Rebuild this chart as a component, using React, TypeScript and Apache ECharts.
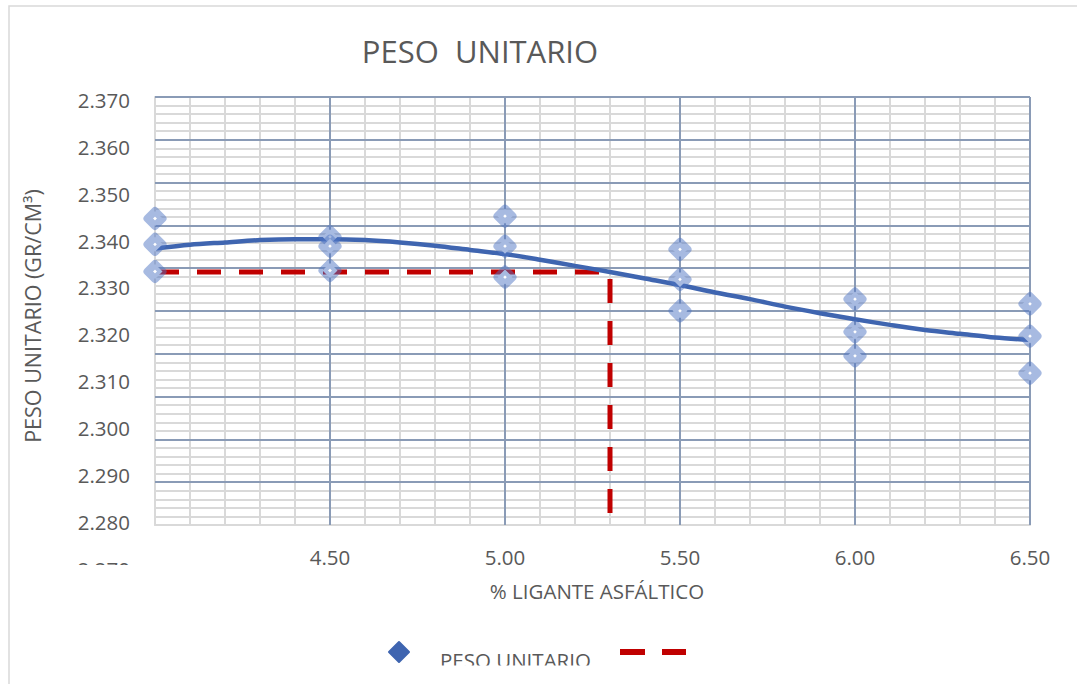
import React, { useEffect, useRef } from "react";
import * as echarts from "echarts";

// Asphalt binder content (%) of each group of specimens
const ASPHALT_CONTENT = [4.0, 4.5, 5.0, 5.5, 6.0, 6.5];
// Unit weight (gr/cm³) of the three specimens at each binder content
const SPECIMEN_A = [2.3447, 2.3408, 2.3452, 2.3381, 2.3275, 2.3265];
const SPECIMEN_B = [2.3392, 2.3388, 2.3388, 2.3317, 2.3205, 2.3196];
const SPECIMEN_C = [2.3334, 2.3336, 2.3322, 2.325, 2.3154, 2.3117];

// Polynomial trend line, sampled every 0.1 %
const TREND_X = [
  4.0, 4.1, 4.2, 4.3, 4.4, 4.5, 4.6, 4.7, 4.8, 4.9, 5.0, 5.1, 5.2,
  5.3, 5.4, 5.5, 5.6, 5.7, 5.8, 5.9, 6.0, 6.1, 6.2, 6.3, 6.4, 6.5,
];
const TREND_Y = [
  2.3383, 2.3391, 2.3396, 2.3401, 2.3403, 2.3403, 2.3401, 2.3396, 2.3389,
  2.338, 2.3371, 2.3359, 2.3346, 2.3333, 2.3319, 2.3305, 2.3289, 2.3275,
  2.3259, 2.3245, 2.3232, 2.322, 2.3209, 2.3201, 2.3193, 2.3188,
];

// Optimum binder content and its unit weight
const OPTIMUM_CONTENT = 5.3;
const OPTIMUM_WEIGHT = 2.3333;
const GUIDE_FLOOR = 2.28;

const X_MIN = 4.0;
const X_MAX = 6.5;
const X_STEP = 0.5;
const Y_MIN = 2.27;
const Y_MAX = 2.37;
const Y_STEP = 0.01;

const TITLE = "PESO  UNITARIO";
const Y_TITLE = "PESO UNITARIO (GR/CM³)";
const X_TITLE = "% LIGANTE ASFÁLTICO";
const SERIES_NAME = "PESO UNITARIO";

const FONT = "'Open Sans', 'Noto Sans', sans-serif";
const TEXT = "#595959";
const MAJOR = "#8A9BB6";
const MINOR = "#D9D9D9";
const BLUE = "#3F65B0";
const RED = "#C00000";

const PLOT = { left: 155, top: 97, width: 875, height: 428 };

export default function App() {
  const ref = useRef<HTMLDivElement>(null);

  useEffect(() => {
    if (!ref.current) return;
    const chart = echarts.init(ref.current, null, { renderer: "svg" });

    const points: number[][] = [];
    ASPHALT_CONTENT.forEach((x, i) => {
      points.push([x, SPECIMEN_A[i]], [x, SPECIMEN_B[i]], [x, SPECIMEN_C[i]]);
    });
    const trend = TREND_X.map((x, i) => [x, TREND_Y[i]]);
    const guide = [
      [X_MIN, OPTIMUM_WEIGHT],
      [OPTIMUM_CONTENT, OPTIMUM_WEIGHT],
      [OPTIMUM_CONTENT, GUIDE_FLOOR],
    ];

    const hidden = {
      axisLine: { show: false },
      axisTick: { show: false },
      axisLabel: { show: false },
      splitLine: { show: false },
    };

    chart.setOption({
      animation: false,
      backgroundColor: "#ffffff",
      grid: [
        // minor grid + axis lines
        { ...PLOT },
        // value scale used by labels and data
        { left: PLOT.left, top: 100, width: PLOT.width, height: 468.5 },
        // major grid drawn above the minor one
        { ...PLOT },
      ],
      xAxis: [
        {
          gridIndex: 0,
          type: "value",
          min: X_MIN,
          max: X_MAX,
          interval: X_STEP,
          axisLine: { show: true, onZero: false, lineStyle: { color: MINOR, width: 2 } },
          axisTick: { show: false },
          axisLabel: {
            color: TEXT,
            fontSize: 20.5,
            fontFamily: FONT,
            margin: 21,
            formatter: (v: number) => (v === X_MIN ? "" : v.toFixed(2)),
          },
          splitLine: { show: false },
          minorTick: { show: false, splitNumber: 5 },
          minorSplitLine: { show: true, lineStyle: { color: MINOR, width: 2 } },
        },
        { gridIndex: 1, type: "value", min: X_MIN, max: X_MAX, ...hidden },
        {
          gridIndex: 2,
          type: "value",
          min: X_MIN,
          max: X_MAX,
          interval: X_STEP,
          z: 1,
          axisLine: { show: false },
          axisTick: { show: false },
          axisLabel: { show: false },
          splitLine: { show: true, showMinLine: false, lineStyle: { color: MAJOR, width: 2 } },
        },
      ],
      yAxis: [
        {
          gridIndex: 0,
          type: "value",
          min: Y_MIN,
          max: Y_MAX,
          interval: Y_STEP,
          axisLine: { show: true, lineStyle: { color: MINOR, width: 2 } },
          axisTick: { show: false },
          axisLabel: { show: false },
          splitLine: { show: false },
          minorTick: { show: false, splitNumber: 5 },
          minorSplitLine: { show: true, lineStyle: { color: MINOR, width: 2 } },
        },
        {
          gridIndex: 1,
          type: "value",
          min: Y_MIN,
          max: Y_MAX,
          interval: Y_STEP,
          axisLine: { show: false },
          axisTick: { show: false },
          splitLine: { show: false },
          axisLabel: {
            color: TEXT,
            fontSize: 20.5,
            fontFamily: FONT,
            margin: 25,
            formatter: (v: number) => v.toFixed(3),
          },
        },
        {
          gridIndex: 2,
          type: "value",
          min: Y_MIN,
          max: Y_MAX,
          interval: Y_STEP,
          z: 1,
          axisLine: { show: false },
          axisTick: { show: false },
          axisLabel: { show: false },
          splitLine: { show: true, showMinLine: false, lineStyle: { color: MAJOR, width: 2 } },
        },
      ],
      series: [
        {
          type: "line",
          name: "optimo",
          xAxisIndex: 1,
          yAxisIndex: 1,
          data: guide,
          symbol: "none",
          z: 3,
          lineStyle: { color: RED, width: 5, type: [24, 18] },
        },
        {
          type: "line",
          name: "tendencia",
          xAxisIndex: 1,
          yAxisIndex: 1,
          data: trend,
          smooth: 0.3,
          symbol: "none",
          z: 4,
          lineStyle: { color: BLUE, width: 4.5 },
        },
        {
          type: "scatter",
          name: SERIES_NAME,
          xAxisIndex: 1,
          yAxisIndex: 1,
          data: points,
          symbol: "diamond",
          symbolSize: 15,
          z: 5,
          itemStyle: {
            color: "#ffffff",
            borderColor: "rgba(80, 118, 196, 0.5)",
            borderWidth: 8,
            borderJoin: "round",
            opacity: 1,
          },
        },
      ],
      graphic: [
        {
          type: "rect",
          silent: true,
          shape: { x: 9, y: 6, width: 1200, height: 800 },
          style: { fill: "none", stroke: "#D9D9D9", lineWidth: 1.5 },
          z: 0,
        },
        {
          type: "text",
          x: 480,
          y: 51,
          style: {
            text: TITLE,
            fill: TEXT,
            font: `31px ${FONT}`,
            align: "center",
            verticalAlign: "middle",
          },
        },
        {
          type: "text",
          x: 32,
          y: 316,
          rotation: Math.PI / 2,
          style: {
            text: Y_TITLE,
            fill: TEXT,
            font: `21.5px ${FONT}`,
            align: "center",
            verticalAlign: "middle",
          },
        },
        {
          type: "text",
          x: 597,
          y: 591,
          style: {
            text: X_TITLE,
            fill: TEXT,
            font: `20.5px ${FONT}`,
            align: "center",
            verticalAlign: "middle",
          },
        },
        // legend
        {
          type: "polygon",
          shape: {
            points: [
              [399, 642],
              [409, 652],
              [399, 662],
              [389, 652],
            ],
          },
          style: { fill: BLUE, stroke: BLUE, lineWidth: 2, lineJoin: "round" },
        },
        {
          type: "text",
          x: 440,
          y: 660,
          style: {
            text: SERIES_NAME,
            fill: TEXT,
            font: `20.5px ${FONT}`,
            align: "left",
            verticalAlign: "middle",
          },
        },
        {
          type: "rect",
          shape: { x: 620, y: 649, width: 25, height: 6 },
          style: { fill: RED },
        },
        {
          type: "rect",
          shape: { x: 662, y: 649, width: 24, height: 6 },
          style: { fill: RED },
        },
        // chart area ends just below the lowest texts
        {
          type: "rect",
          z: 100,
          shape: { x: 60, y: 565, width: 90, height: 25 },
          style: { fill: "#ffffff" },
        },
        {
          type: "rect",
          z: 100,
          shape: { x: 425, y: 665.5, width: 190, height: 20 },
          style: { fill: "#ffffff" },
        },
      ],
    });

    return () => chart.dispose();
  }, []);

  return (
    <div
      ref={ref}
      style={{ position: "fixed", left: 0, top: 0, width: 1077, height: 684 }}
    />
  );
}
